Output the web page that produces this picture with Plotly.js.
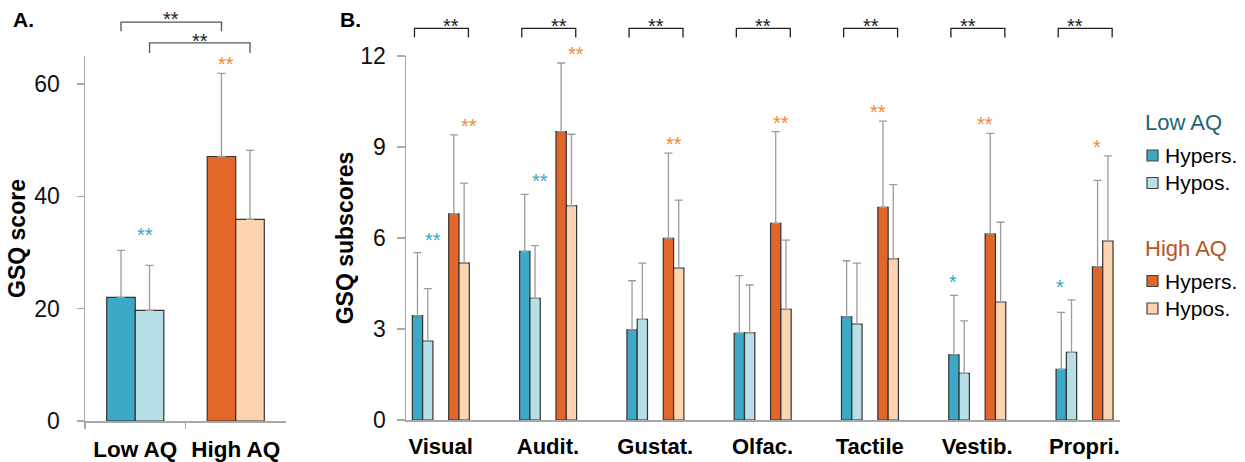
<!DOCTYPE html>
<html><head><meta charset="utf-8">
<script src="https://cdn.plot.ly/plotly-3.0.1.min.js"></script>
<style>body{margin:0;background:#fff}#chart{width:1245px;height:462px}</style>
</head><body><div id="chart"></div>
<script>
// ---------- Panel A data ----------
const groupsA = ['Low AQ', 'High AQ'];
const hypersA = [22.0, 47.1];
const hypersA_sd = [8.4, 14.8];
const hyposA = [19.7, 35.9];
const hyposA_sd = [8.0, 12.3];
const sigWithinA = ['**', '**'];
const sigBetweenA = ['**', '**'];   // hypers low vs high, hypos low vs high

// ---------- Panel B data ----------
const categories = ['Visual', 'Audit.', 'Gustat.', 'Olfac.', 'Tactile', 'Vestib.', 'Propri.'];
const lowHypers = [3.44, 5.56, 2.97, 2.86, 3.40, 2.15, 1.67];
const lowHypers_sd = [2.08, 1.88, 1.62, 1.90, 1.85, 1.96, 1.88];
const lowHypos = [2.60, 4.01, 3.32, 2.88, 3.16, 1.54, 2.23];
const lowHypos_sd = [1.73, 1.74, 1.85, 1.57, 2.01, 1.73, 1.73];
const highHypers = [6.80, 9.51, 5.99, 6.48, 7.01, 6.14, 5.05];
const highHypers_sd = [2.60, 2.26, 2.81, 3.03, 2.84, 3.31, 2.85];
const highHypos = [5.17, 7.07, 5.01, 3.65, 5.32, 3.89, 5.90];
const highHypos_sd = [2.64, 2.35, 2.24, 2.28, 2.44, 2.63, 2.81];
const sigLow = ['**', '**', '', '', '', '*', '*'];
const sigHigh = ['**', '**', '**', '**', '**', '**', '*'];
const sigBetween = ['**', '**', '**', '**', '**', '**', '**'];
const yTicksA = [0, 20, 40, 60];
const yTicksB = [0, 3, 6, 9, 12];

// ---------- styles ----------
const FONT = 'Arial, "Liberation Sans", sans-serif';
const C = {lowHyper: '#3CA9C6', lowHypo: '#B6DFE8', highHyper: '#E2662A', highHypo: '#FCD4AF',
           starLow: '#3AA6C4', starHigh: '#F08A3E', line: '#333333', err: '#9c9c9c', axis: '#a8a8a8',
           legLow: '#1D6674', legHigh: '#B4561F'};
const W = 1245, H = 462;
const px = v => v / W, py = v => 1 - v / H;
const zeros = n => new Array(n).fill(0);

const rangeA = [-0.5, 1.5];
const rangeB = [-0.323, 6.332];
const fA = p => (p - rangeA[0]) / (rangeA[1] - rangeA[0]);
const fB = p => (p - rangeB[0]) / (rangeB[1] - rangeB[0]);

const wA = 0.284;
const wB = 0.096;
const offB = {lowHyper: -0.264, lowHypo: -0.168, highHyper: 0.075, highHypo: 0.171};

function errObj(arr) {
  return {type: 'data', symmetric: false, array: arr, arrayminus: zeros(arr.length),
          color: C.err, thickness: 1.3, width: 4};
}
function barTrace(x, y, sd, color, offset, width, xa, ya) {
  return {type: 'bar', x: x, y: y, xaxis: xa, yaxis: ya, offset: offset, width: width,
          marker: {color: color, line: {color: C.line, width: 1.2}},
          error_y: errObj(sd), showlegend: false, hoverinfo: 'y'};
}

const traces = [
  barTrace(groupsA, hypersA, hypersA_sd, [C.lowHyper, C.highHyper], -wA, wA, 'x', 'y'),
  barTrace(groupsA, hyposA, hyposA_sd, [C.lowHypo, C.highHypo], 0, wA, 'x', 'y'),
  barTrace(categories, lowHypers, lowHypers_sd, C.lowHyper, offB.lowHyper, wB, 'x2', 'y2'),
  barTrace(categories, lowHypos, lowHypos_sd, C.lowHypo, offB.lowHypo, wB, 'x2', 'y2'),
  barTrace(categories, highHypers, highHypers_sd, C.highHyper, offB.highHyper, wB, 'x2', 'y2'),
  barTrace(categories, highHypos, highHypos_sd, C.highHypo, offB.highHypo, wB, 'x2', 'y2')
];

const shapes = [];
const annotations = [];
const starFont = c => ({family: FONT, size: 20, color: c});
const STAR_SHIFT = 9;

// Panel A within-group stars
groupsA.forEach((g, i) => {
  const top = Math.max(hypersA[i] + hypersA_sd[i], hyposA[i] + hyposA_sd[i]);
  annotations.push({xref: 'x domain', yref: 'y', x: fA(i), y: top, yshift: STAR_SHIFT + (i === 0 ? 6 : 0),
    text: sigWithinA[i], showarrow: false, yanchor: 'middle', font: starFont(i === 0 ? C.starLow : C.starHigh)});
});
// Panel A between-group brackets
const bracketA = [{o: -wA / 2, y0: 1.068, y1: 1.093, ty: 1.100}, {o: wA / 2, y0: 1.008, y1: 1.036, ty: 1.042}];
bracketA.forEach((b, k) => {
  const x0 = fA(0 + b.o), x1 = fA(1 + b.o);
  shapes.push({type: 'path', xref: 'x domain', yref: 'y domain',
    path: `M${x0},${b.y0} L${x0},${b.y1} L${x1},${b.y1} L${x1},${b.y0}`,
    line: {color: '#555', width: 1.3}});
  annotations.push({xref: 'x domain', yref: 'y domain', x: (x0 + x1) / 2, y: b.ty,
    text: sigBetweenA[k], showarrow: false, yanchor: 'middle', font: starFont('#222')});
});

// Panel B stars and brackets
categories.forEach((c, i) => {
  const lowTop = Math.max(lowHypers[i] + lowHypers_sd[i], lowHypos[i] + lowHypos_sd[i]);
  const highTop = Math.max(highHypers[i] + highHypers_sd[i], highHypos[i] + highHypos_sd[i]);
  if (sigLow[i]) annotations.push({xref: 'x2 domain', yref: 'y2', x: fB(i + offB.lowHypo), y: lowTop,
    yshift: STAR_SHIFT + 4, text: sigLow[i], showarrow: false, yanchor: 'middle', font: starFont(C.starLow)});
  if (sigHigh[i]) annotations.push({xref: 'x2 domain', yref: 'y2', x: fB(i + offB.highHypo), y: highTop,
    yshift: STAR_SHIFT, text: sigHigh[i], showarrow: false, yanchor: 'middle', font: starFont(C.starHigh)});
  const x0 = fB(i + offB.lowHyper + 0.02), x1 = fB(i + offB.highHypo + wB - 0.008);
  shapes.push({type: 'path', xref: 'x2 domain', yref: 'y2 domain',
    path: `M${x0},1.051 L${x0},1.076 L${x1},1.076 L${x1},1.051`,
    line: {color: '#222', width: 1.3}});
  annotations.push({xref: 'x2 domain', yref: 'y2 domain', x: (x0 + x1) / 2, y: 1.082,
    text: sigBetween[i], showarrow: false, yanchor: 'middle', font: starFont('#222')});
});

// Panel letters
annotations.push({xref: 'paper', yref: 'paper', x: px(11), y: py(20), xanchor: 'left', yanchor: 'middle',
  text: 'A.', showarrow: false, font: {family: FONT, size: 21, weight: 'bold', color: '#000'}});
annotations.push({xref: 'paper', yref: 'paper', x: px(338), y: py(20), xanchor: 'left', yanchor: 'middle',
  text: 'B.', showarrow: false, font: {family: FONT, size: 21, weight: 'bold', color: '#000'}});

// Custom legend
const legend = [
  {title: 'Low AQ', tc: C.legLow, ty: 122, items: [['Hypers.', C.lowHyper, 155.5], ['Hypos.', C.lowHypo, 183]]},
  {title: 'High AQ', tc: C.legHigh, ty: 248.5, items: [['Hypers.', C.highHyper, 281], ['Hypos.', C.highHypo, 308.5]]}
];
legend.forEach(g => {
  annotations.push({xref: 'paper', yref: 'paper', x: px(1143), y: py(g.ty), xanchor: 'left', yanchor: 'middle',
    text: g.title, showarrow: false, font: {family: FONT, size: 22, color: g.tc}});
  g.items.forEach(it => {
    shapes.push({type: 'rect', xref: 'paper', yref: 'paper', x0: px(1147), x1: px(1158),
      y0: py(it[2] + 5.5), y1: py(it[2] - 5.5), fillcolor: it[1], line: {color: '#444', width: 1.2}});
    annotations.push({xref: 'paper', yref: 'paper', x: px(1163), y: py(it[2]), xanchor: 'left', yanchor: 'middle',
      text: it[0], showarrow: false, font: {family: FONT, size: 21, color: '#000'}});
  });
});

const tickFont = {family: FONT, size: 23, color: '#111'};
const catFontA = {family: FONT, size: 22.5, color: '#000', weight: 'bold'};
const catFontB = {family: FONT, size: 22, color: '#000', weight: 'bold'};
const titleFont = {family: FONT, size: 23, color: '#000', weight: 'bold'};

const layout = {
  width: W, height: H, autosize: false,
  margin: {l: 0, r: 0, t: 0, b: 0},
  paper_bgcolor: '#fff', plot_bgcolor: '#fff',
  barmode: 'overlay', showlegend: false,
  font: {family: FONT},
  xaxis: {domain: [px(85), px(286)], range: rangeA, type: 'category', anchor: 'y',
    showline: true, linecolor: C.axis, linewidth: 1.5, ticks: 'outside', ticklen: 6, tickcolor: C.axis,
    tickwidth: 1.3, tickson: 'boundaries', showgrid: false, zeroline: false, tickfont: catFontA,
    ticklabelstandoff: 7, fixedrange: true},
  yaxis: {domain: [py(421), py(56)], range: [0, 65], anchor: 'x', tickvals: yTicksA,
    showline: true, linecolor: C.axis, linewidth: 1.5, ticks: 'outside', ticklen: 7, tickcolor: C.axis,
    tickwidth: 1.3, showgrid: false, zeroline: false, tickfont: tickFont, ticklabelstandoff: 12,
    title: {text: 'GSQ score', font: titleFont, standoff: 2}, fixedrange: true},
  xaxis2: {domain: [px(406), px(1120)], range: rangeB, type: 'category', anchor: 'y2',
    showline: true, linecolor: C.axis, linewidth: 1.5, ticks: '', showgrid: false, zeroline: false,
    tickfont: catFontB, ticklabelstandoff: 6, fixedrange: true},
  yaxis2: {domain: [py(420), py(56)], range: [0, 12], anchor: 'x2', tickvals: yTicksB,
    showline: true, linecolor: C.axis, linewidth: 1.5, ticks: 'outside', ticklen: 8, tickcolor: C.axis,
    tickwidth: 1.3, showgrid: false, zeroline: false, tickfont: tickFont, ticklabelstandoff: 6,
    title: {text: 'GSQ subscores', font: titleFont, standoff: 0}, fixedrange: true},
  shapes: shapes,
  annotations: annotations
};

Plotly.newPlot('chart', traces, layout, {displayModeBar: false, staticPlot: true});
</script>
</body></html>
